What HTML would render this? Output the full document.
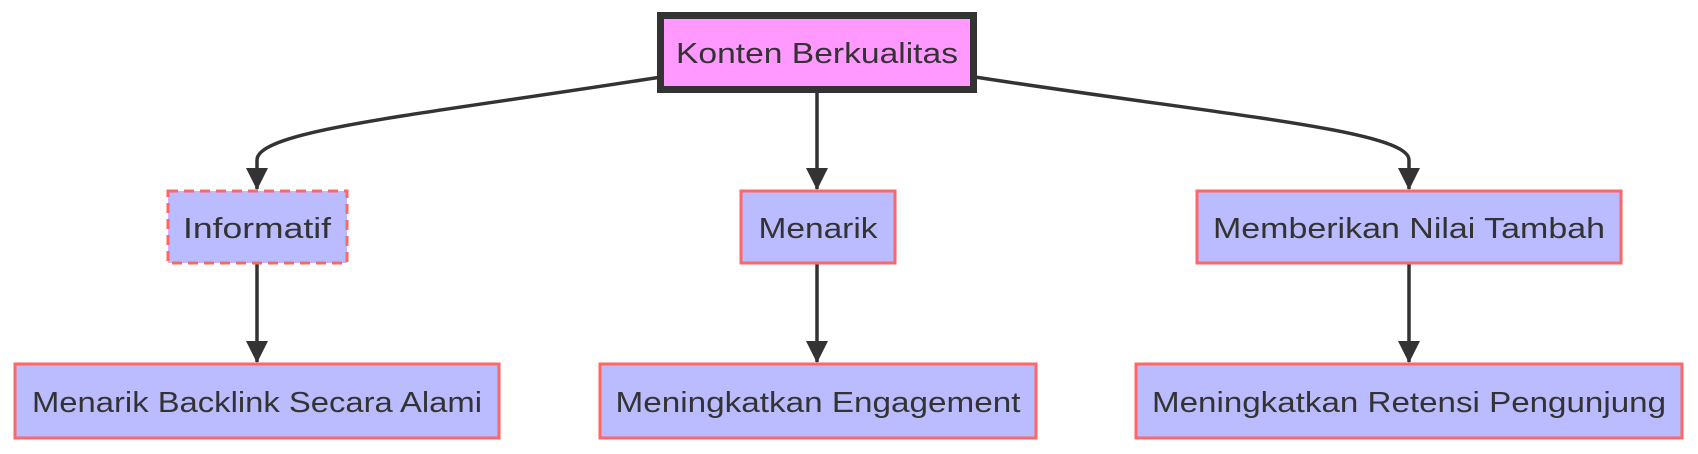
<!DOCTYPE html>
<html><head><meta charset="utf-8"><style>
html,body{margin:0;padding:0;background:#fff;}
svg{display:block;}
text{font-family:"Liberation Sans",sans-serif;font-size:29px;fill:#333;}
</style></head><body>
<svg width="1698" height="454" viewBox="0 0 1698 454" xmlns="http://www.w3.org/2000/svg">
<defs>
<marker id="a" viewBox="0 0 22 22" refX="21" refY="11" markerWidth="22" markerHeight="22" markerUnits="userSpaceOnUse" orient="auto">
<path d="M0,0 L22,11 L0,22 z" fill="#333"/>
</marker>
</defs>
<g fill="none" stroke="#333" stroke-width="3.5">
<path d="M661,77 C420,115 257,130 257,160 L257,189" marker-end="url(#a)"/>
<path d="M817,93 L817,189" marker-end="url(#a)"/>
<path d="M975,77 C1220,115 1409,130 1409,160 L1409,189" marker-end="url(#a)"/>
<path d="M257,264 L257,362" marker-end="url(#a)"/>
<path d="M817,264 L817,362" marker-end="url(#a)"/>
<path d="M1409,264 L1409,362" marker-end="url(#a)"/>
</g>
<rect x="660.5" y="15.5" width="313" height="74" fill="#ff99ff" stroke="#333" stroke-width="7"/>
<text x="817" y="63" text-anchor="middle" textLength="282" lengthAdjust="spacingAndGlyphs">Konten Berkualitas</text>
<g fill="#bbbbff" stroke="#ff6666" stroke-width="3">
<rect x="168" y="191" width="179" height="72" stroke-dasharray="10,6"/>
<rect x="741" y="191" width="154" height="72"/>
<rect x="1197" y="191" width="424" height="72"/>
<rect x="15" y="364" width="484" height="74"/>
<rect x="600" y="364" width="436" height="74"/>
<rect x="1136" y="364" width="546" height="74"/>
</g>
<text x="257" y="238" text-anchor="middle" textLength="148" lengthAdjust="spacingAndGlyphs">Informatif</text>
<text x="818" y="238" text-anchor="middle" textLength="119" lengthAdjust="spacingAndGlyphs">Menarik</text>
<text x="1409" y="238" text-anchor="middle" textLength="392" lengthAdjust="spacingAndGlyphs">Memberikan Nilai Tambah</text>
<text x="257" y="412" text-anchor="middle" textLength="450" lengthAdjust="spacingAndGlyphs">Menarik Backlink Secara Alami</text>
<text x="818" y="412" text-anchor="middle" textLength="405" lengthAdjust="spacingAndGlyphs">Meningkatkan Engagement</text>
<text x="1409" y="412" text-anchor="middle" textLength="514" lengthAdjust="spacingAndGlyphs">Meningkatkan Retensi Pengunjung</text>
</svg>
</body></html>
